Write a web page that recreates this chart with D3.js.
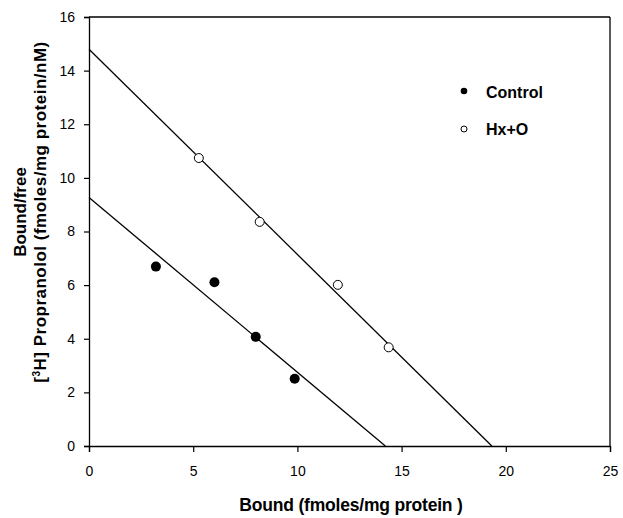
<!DOCTYPE html>
<html>
<head>
<meta charset="utf-8">
<script src="https://cdn.jsdelivr.net/npm/d3@7"></script>
<style>
  html, body { margin: 0; padding: 0; background: #fff; }
  svg { display: block; }
  text { font-family: "Liberation Sans", Arial, sans-serif; fill: #000; }
</style>
</head>
<body>
<svg id="chart" width="623" height="518"></svg>
<script>
// ---- data ----
const controlX = [3.21, 6.02, 8.00, 9.87];
const controlY = [6.69, 6.11, 4.07, 2.51];
const hxoX = [5.27, 8.19, 11.94, 14.38];
const hxoY = [10.74, 8.36, 6.01, 3.68];
// regression lines: [y-intercept, x-intercept]
const controlLine = [9.27, 14.22];
const hxoLine = [14.8, 19.33];
const xTicks = [0, 5, 10, 15, 20, 25];
const yTicks = [0, 2, 4, 6, 8, 10, 12, 14, 16];
const legendLabels = ["Control", "Hx+O"];

// ---- layout ----
const svg = d3.select("#chart");
const mLeft = 89, mRight = 610, mTop = 17, mBottom = 446;
const x = d3.scaleLinear().domain([0, 25]).range([mLeft, mRight]);
const y = d3.scaleLinear().domain([0, 16]).range([mBottom, mTop]);

// frame (top and right borders)
svg.append("line").attr("x1", mLeft).attr("x2", mRight).attr("y1", mTop).attr("y2", mTop)
  .attr("stroke", "#000").attr("stroke-width", 1.3);
svg.append("line").attr("x1", mRight).attr("x2", mRight).attr("y1", mTop).attr("y2", mBottom)
  .attr("stroke", "#000").attr("stroke-width", 1.3);

// axes
const xAxis = svg.append("g").attr("transform", `translate(0,${mBottom})`)
  .call(d3.axisBottom(x).tickValues(xTicks).tickSize(6).tickPadding(14).tickFormat(d3.format("d")));
const yAxis = svg.append("g").attr("transform", `translate(${mLeft},0)`)
  .call(d3.axisLeft(y).tickValues(yTicks).tickSize(5).tickPadding(9).tickFormat(d3.format("d")));
[xAxis, yAxis].forEach(g => {
  g.select(".domain").attr("stroke", "#000").attr("stroke-width", 1.3);
  g.selectAll(".tick line").attr("stroke", "#000").attr("stroke-width", 1.2);
  g.selectAll(".tick text").attr("font-size", 14).attr("fill", "#000")
    .attr("font-family", "'Liberation Sans', Arial, sans-serif");
});

// regression lines
[controlLine, hxoLine].forEach(l => {
  svg.append("line")
    .attr("x1", x(0)).attr("y1", y(l[0]))
    .attr("x2", x(l[1])).attr("y2", y(0))
    .attr("stroke", "#000").attr("stroke-width", 1.3);
});

// points
svg.append("g").selectAll("circle").data(controlX.map((v, i) => [v, controlY[i]]))
  .join("circle").attr("cx", d => x(d[0])).attr("cy", d => y(d[1])).attr("r", 5)
  .attr("fill", "#000");
svg.append("g").selectAll("circle").data(hxoX.map((v, i) => [v, hxoY[i]]))
  .join("circle").attr("cx", d => x(d[0])).attr("cy", d => y(d[1])).attr("r", 4.5)
  .attr("fill", "#fff").attr("stroke", "#000").attr("stroke-width", 1);

// legend
const leg = svg.append("g");
leg.append("circle").attr("cx", 464).attr("cy", 91).attr("r", 3.3).attr("fill", "#000");
leg.append("text").attr("x", 486).attr("y", 98).attr("font-size", 16).attr("font-weight", "bold")
  .text(legendLabels[0]);
leg.append("circle").attr("cx", 464).attr("cy", 129).attr("r", 3).attr("fill", "#fff")
  .attr("stroke", "#000").attr("stroke-width", 1);
leg.append("text").attr("x", 486).attr("y", 135).attr("font-size", 16).attr("font-weight", "bold")
  .text(legendLabels[1]);

// axis titles
svg.append("text").attr("x", 351).attr("y", 511).attr("text-anchor", "middle")
  .attr("font-size", 17.5).attr("font-weight", "bold").attr("letter-spacing", -0.2)
  .text("Bound (fmoles/mg protein )");

const yt = svg.append("text").attr("transform", "translate(26,212) rotate(-90)")
  .attr("text-anchor", "middle").attr("font-size", 17).attr("font-weight", "bold");
yt.append("tspan").attr("x", 0).attr("y", 0).text("Bound/free");
const l2 = yt.append("tspan").attr("x", 0).attr("y", 20).attr("letter-spacing", 0.5);
l2.append("tspan").text("[");
l2.append("tspan").attr("font-size", 10).attr("dy", -6).text("3");
l2.append("tspan").attr("dy", 6).text("H] Propranolol (fmoles/mg protein/nM)");
</script>
</body>
</html>
